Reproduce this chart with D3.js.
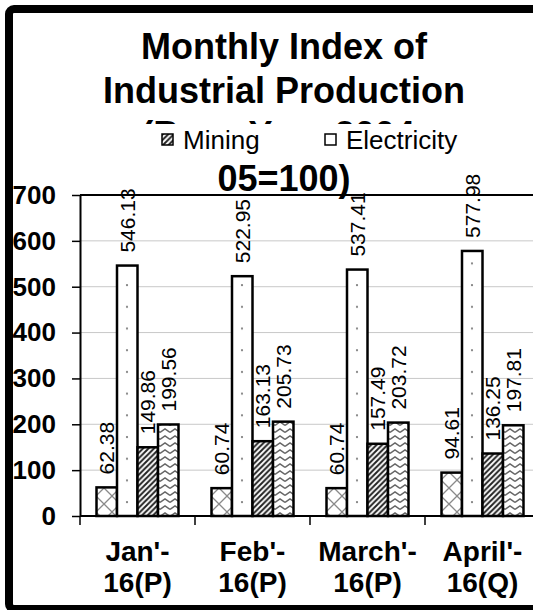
<!DOCTYPE html>
<html><head><meta charset="utf-8">
<script src="https://cdn.jsdelivr.net/npm/d3@7"></script>
<style>body{margin:0;background:#fff}svg{display:block}</style>
</head><body>
<svg id="c" width="533" height="610"></svg>
<script>
// ---- data ----
const categories = ["Jan'-16(P)", "Feb'-16(P)", "March'-16(P)", "April'-16(Q)"];
const seriesNames = ["Series 1", "Electricity", "Mining", "Series 4"];
const series1Values = [62.38, 60.74, 60.74, 94.61];
const electricityValues = [546.13, 522.95, 537.41, 577.98];
const miningValues = [149.86, 163.13, 157.49, 136.25];
const series4Values = [199.56, 205.73, 203.72, 197.81];
const yTicks = [0, 100, 200, 300, 400, 500, 600, 700];
const titleLines = ["Monthly Index of", "Industrial Production", "(Base Year 2004-", "05=100)"];
const legendItems = ["Mining", "Electricity"];

const allSeries = [series1Values, electricityValues, miningValues, series4Values];
const FONT = "'Liberation Sans', Arial, sans-serif";

const svg = d3.select("#c");
svg.append("rect").attr("width", 533).attr("height", 610).attr("fill", "#fff");

// ---- patterns ----
const defs = svg.append("defs");
const p0 = defs.append("pattern").attr("id", "pat0").attr("patternUnits", "userSpaceOnUse")
  .attr("width", 16).attr("height", 16);
p0.append("rect").attr("width", 16).attr("height", 16).attr("fill", "#fff");
p0.append("path").attr("d", "M0,0L16,16M16,0L0,16").attr("stroke", "#8a8a8a").attr("stroke-width", 1.3);
const p1 = defs.append("pattern").attr("id", "pat1").attr("patternUnits", "userSpaceOnUse")
  .attr("width", 22).attr("height", 21.7);
p1.append("rect").attr("width", 22).attr("height", 21.7).attr("fill", "#fff");
p1.append("circle").attr("cx", 3).attr("cy", 3).attr("r", 1.1).attr("fill", "#777");
p1.append("circle").attr("cx", 14).attr("cy", 13.85).attr("r", 1.1).attr("fill", "#777");
const p2 = defs.append("pattern").attr("id", "pat2").attr("patternUnits", "userSpaceOnUse")
  .attr("width", 5.5).attr("height", 5.5);
p2.append("rect").attr("width", 5.5).attr("height", 5.5).attr("fill", "#fff");
p2.append("path").attr("d", "M-1,6.5L6.5,-1M-2,2L2,-2M3.5,7.5L7.5,3.5").attr("stroke", "#222").attr("stroke-width", 2);
const p3 = defs.append("pattern").attr("id", "pat3").attr("patternUnits", "userSpaceOnUse")
  .attr("width", 10).attr("height", 7);
p3.append("rect").attr("width", 10).attr("height", 7).attr("fill", "#fff");
p3.append("path").attr("d", "M0,5.5L5,2L10,5.5").attr("fill", "none").attr("stroke", "#666").attr("stroke-width", 1.5);
// clip: only the top sliver of the 3rd title line shows above the legend
defs.append("clipPath").attr("id", "legendClip").append("rect")
  .attr("x", 0).attr("y", 0).attr("width", 533).attr("height", 124);

// ---- scales ----
const y = d3.scaleLinear().domain([0, 700]).range([516, 195]);
const x0 = d3.scaleBand().domain(categories).range([80, 540]);
const x1 = d3.scaleBand().domain(d3.range(allSeries.length)).range([0, x0.bandwidth()])
  .paddingInner(0).paddingOuter(0.805);

// ---- outer chart border ----
svg.append("rect").attr("x", 9).attr("y", 9).attr("width", 700).attr("height", 600)
  .attr("rx", 5).attr("fill", "none").attr("stroke", "#000").attr("stroke-width", 8);

// ---- gridlines ----
svg.append("g").selectAll("line").data(yTicks.filter(t => t > 0 && t < 700)).join("line")
  .attr("x1", 80).attr("x2", 540).attr("y1", d => y(d)).attr("y2", d => y(d))
  .attr("stroke", "#c8c8c8").attr("stroke-width", 1);
svg.append("line").attr("x1", 80).attr("x2", 540).attr("y1", y(700)).attr("y2", y(700))
  .attr("stroke", "#000").attr("stroke-width", 2);

// ---- title ----
const title = svg.append("g").attr("font-family", FONT).attr("font-weight", "bold")
  .attr("font-size", 36).attr("text-anchor", "middle");
title.selectAll("text").data(titleLines).join("text")
  .attr("x", 284).attr("y", (d, i) => 59 + i * 44)
  .attr("clip-path", (d, i) => i === 2 ? "url(#legendClip)" : null)
  .text(d => d);

// ---- legend ----
const lg = svg.append("g").attr("font-family", FONT).attr("font-size", 26);
lg.append("rect").attr("x", 138).attr("y", 124).attr("width", 340).attr("height", 35).attr("fill", "#fff");
const legendX = [162, 325];
legendItems.forEach((name, i) => {
  const idx = seriesNames.indexOf(name);
  lg.append("rect").attr("x", legendX[i]).attr("y", 134).attr("width", 11).attr("height", 11)
    .attr("fill", `url(#pat${idx})`).attr("stroke", "#000").attr("stroke-width", 1.5);
  lg.append("text").attr("x", legendX[i] + 21).attr("y", 149).text(name);
});

// ---- axes ----
const yAxis = svg.append("g").attr("transform", "translate(80,0)")
  .call(d3.axisLeft(y).tickValues(yTicks).tickSize(8).tickSizeOuter(0).tickPadding(16));
yAxis.select(".domain").attr("stroke", "#000").attr("stroke-width", 2);
yAxis.selectAll(".tick line").attr("stroke", "#000").attr("stroke-width", 1.5);
yAxis.selectAll(".tick text").attr("font-family", FONT).attr("font-weight", "bold")
  .attr("font-size", 26).attr("fill", "#000");

svg.append("line").attr("x1", 80).attr("x2", 540).attr("y1", y(0)).attr("y2", y(0))
  .attr("stroke", "#000").attr("stroke-width", 2);
svg.append("g").selectAll("line").data(categories).join("line")
  .attr("x1", d => x0(d)).attr("x2", d => x0(d)).attr("y1", y(0)).attr("y2", y(0) + 9)
  .attr("stroke", "#000").attr("stroke-width", 1.5);

const cl = svg.append("g").attr("font-family", FONT).attr("font-weight", "bold")
  .attr("font-size", 28).attr("text-anchor", "middle");
categories.forEach(c => {
  const k = c.indexOf("-") + 1;
  const cx = x0(c) + x0.bandwidth() / 2;
  const t = cl.append("text").attr("x", cx);
  t.append("tspan").attr("x", cx).attr("y", 561).text(c.slice(0, k));
  t.append("tspan").attr("x", cx).attr("y", 592).text(c.slice(k));
});

// ---- bars ----
const groups = svg.append("g").selectAll("g").data(categories).join("g")
  .attr("transform", d => `translate(${x0(d)},0)`);
groups.selectAll("rect").data((c, ci) => allSeries.map((s, si) => ({ si, v: s[ci] }))).join("rect")
  .attr("x", d => x1(d.si)).attr("y", d => y(d.v))
  .attr("width", x1.bandwidth()).attr("height", d => y(0) - y(d.v))
  .attr("fill", d => `url(#pat${d.si})`).attr("stroke", "#000").attr("stroke-width", 2.5);

// ---- data labels ----
groups.selectAll("text").data((c, ci) => allSeries.map((s, si) => ({ si, v: s[ci] }))).join("text")
  .attr("transform", d => `translate(${x1(d.si) + x1.bandwidth() / 2},${y(d.v) - 13}) rotate(-90)`)
  .attr("dy", "0.35em").attr("font-family", FONT).attr("font-size", 21).attr("fill", "#000")
  .text(d => d.v.toFixed(2));
</script>
</body></html>
